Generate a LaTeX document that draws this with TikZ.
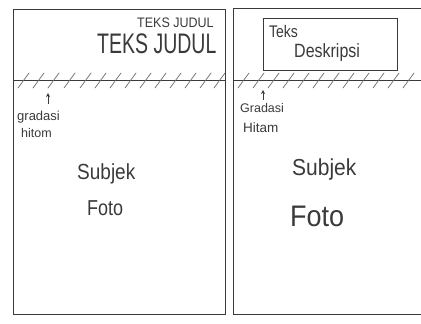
\documentclass[tikz,border=0pt]{standalone}
\usepackage{fontspec}
\setmainfont{Liberation Sans}
\usetikzlibrary{arrows.meta}
\definecolor{ink}{HTML}{3A3A3A}
\definecolor{pencil}{HTML}{6A6A6A}
\tikzset{
  panel/.style={draw=ink, line width=0.9pt},
  hatch/.style={draw=pencil, line width=0.7pt, line cap=round},
  txt/.style={text=ink, inner sep=0pt, anchor=west},
  uparrow/.style={draw=ink, line width=0.6pt, -{Stealth[open,length=4pt,width=4pt]}}
}
\begin{document}
\begin{tikzpicture}[x=1pt,y=-1pt]
\useasboundingbox (0,0) rectangle (421,324);
% left panel
\draw[panel] (13,9) rectangle (225,314);
\draw[panel] (13,80) -- (225,80);
\foreach \x in {18,33,48,64,80,95,110,125,140,155,170,185,200,214}
  \draw[hatch] (\x,88) -- (\x+11,73);
\node[txt, font=\fontsize{12.5}{12}\selectfont] (tj1) at (137,23) {\scalebox{1}[1.1]{TEKS JUDUL}};
\node[txt, font=\fontsize{19.5}{20}\selectfont] (tj2) at (97,44) {\scalebox{1}[1.45]{TEKS JUDUL}};
\node[txt, font=\fontsize{13}{13}\selectfont] (g1) at (17,117) {gradasi};
\node[txt, font=\fontsize{12.5}{12}\selectfont] (h1) at (21,133) {hitom};
\coordinate (a1) at (48,93);
\draw[uparrow] (48,104) -- (a1);
\node[txt, font=\fontsize{19}{19}\selectfont] (s1) at (77,174) {\scalebox{1}[1.15]{Subjek}};
\node[txt, font=\fontsize{18}{18}\selectfont] (f1) at (87,208) {\scalebox{1}[1.2]{Foto}};
% right panel
\draw[panel] (233,314) -- (233,8) -- (421,8);
\draw[panel] (421,314) -- (233,314);
\draw[panel] (233,80) -- (421,80);
\foreach \x in {238,253,268,283,298,313,328,343,358,373,388,403}
  \draw[hatch] (\x,88) -- (\x+11,73);
\node[draw=ink, line width=0.8pt, minimum width=134pt, minimum height=52pt, anchor=north west, inner sep=0pt] (box) at (263,18) {};
\node[txt, font=\fontsize{14}{14}\selectfont] (t2) at (269,31) {\scalebox{1}[1.2]{Teks}};
\node[txt, font=\fontsize{16}{16}\selectfont] (d2) at (294,53) {\scalebox{1}[1.2]{Deskripsi}};
\node[txt, font=\fontsize{12.5}{12}\selectfont] (g2) at (240,108) {Gradasi};
\node[txt, font=\fontsize{13.5}{13}\selectfont] (h2) at (243,128) {Hitam};
\coordinate (a2) at (263,90);
\draw[uparrow] (263,100) -- (a2);
\node[txt, font=\fontsize{21}{21}\selectfont] (s2) at (292,170) {\scalebox{1}[1.1]{Subjek}};
\node[txt, font=\fontsize{27}{27}\selectfont] (f2) at (290,216) {\scalebox{1}[1.1]{Foto}};
\end{tikzpicture}
\end{document}
